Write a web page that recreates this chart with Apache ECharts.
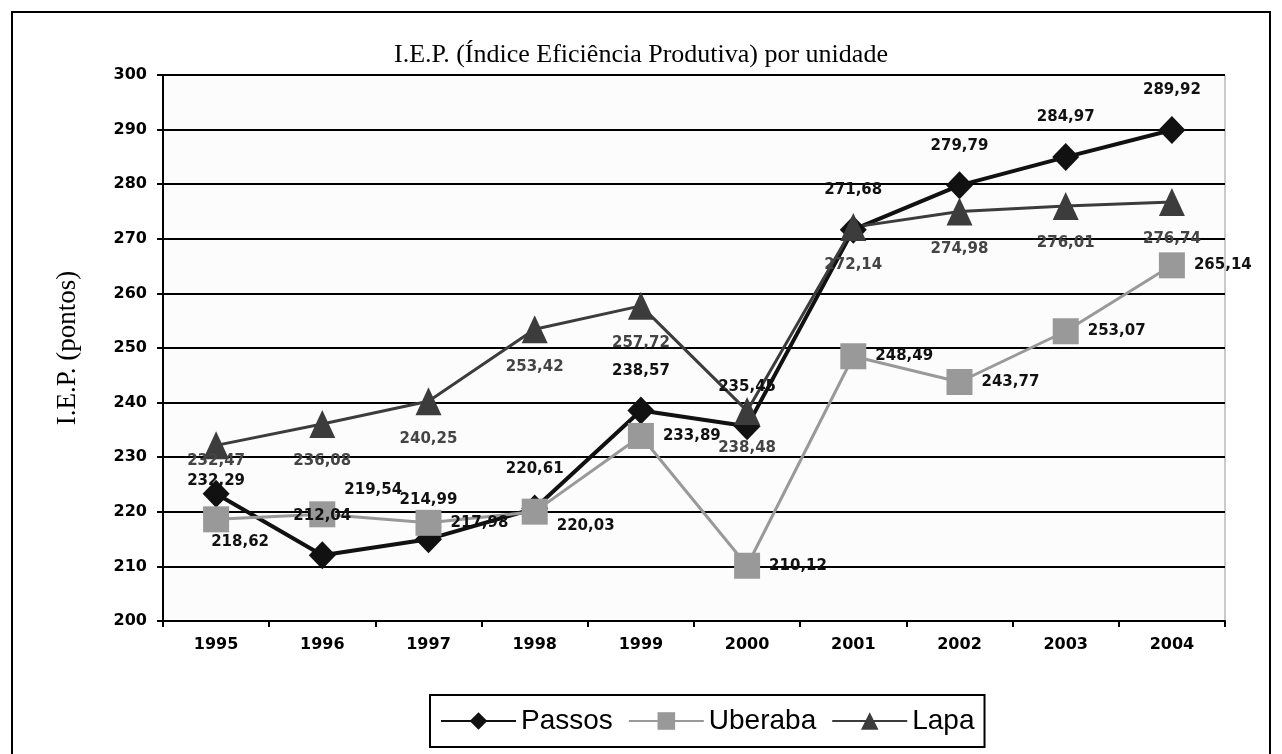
<!DOCTYPE html>
<html>
<head>
<meta charset="utf-8">
<script src="https://cdn.jsdelivr.net/npm/echarts@6/dist/echarts.min.js"></script>
<style>
  html, body { margin: 0; padding: 0; background: #fff; }
  #chart { width: 1282px; height: 754px; }
</style>
</head>
<body>
<div id="chart"></div>
<script>
// anos
var years = ['1995', '1996', '1997', '1998', '1999', '2000', '2001', '2002', '2003', '2004'];
// valores
var passos = [223.29, 212.04, 214.99, 220.61, 238.57, 235.65, 271.68, 279.79, 284.97, 289.92];
var uberaba = [218.62, 219.54, 217.98, 220.03, 233.89, 210.12, 248.49, 243.77, 253.07, 265.14];
var lapa = [232.17, 236.08, 240.25, 253.42, 257.72, 238.48, 272.14, 274.98, 276.01, 276.74];
// rotulos como aparecem na figura
var passosLabels = ['232,29', '212,04', '214,99', '220,61', '238,57', '235,45', '271,68', '279,79', '284,97', '289,92'];
var uberabaLabels = ['218,62', '219,54', '217,98', '220,03', '233,89', '210,12', '248,49', '243,77', '253,07', '265,14'];
var lapaLabels = ['232,47', '236,08', '240,25', '253,42', '257,72', '238,48', '272,14', '274,98', '276,01', '276,74'];

var myChart = echarts.init(document.getElementById('chart'));
var lblFont = 'DejaVu Sans';

// alguns rotulos ficam deslocados no original
var labelTweaks = {
  Passos: { 0: { offset: [0, 27] } },
  Uberaba: { 0: { position: 'bottom', distance: 2, offset: [24, 0] }, 1: { offset: [0, -24] }, 3: { offset: [0, 14] } },
  Lapa: { 0: { offset: [0, -22] } }
};

function mkSeries(name, data, labels, color, width, symbol, size, pos, dist, lblColor){
  var tw = labelTweaks[name] || {};
  var items = data.map(function(v, i){
    return tw[i] ? { value: v, label: tw[i] } : v;
  });
  return {
    name: name,
    type: 'line',
    data: items,
    symbol: symbol,
    symbolSize: size,
    lineStyle: { color: color, width: width },
    itemStyle: { color: color },
    label: {
      show: true,
      position: pos,
      distance: dist,
      color: lblColor,
      fontFamily: lblFont,
      fontWeight: 'bold',
      fontSize: 15,
      formatter: function(p){ return labels[p.dataIndex]; }
    },
    emphasis: { disabled: true },
    animation: false
  };
}

var option = {
  backgroundColor: '#fff',
  animation: false,
  title: {
    text: 'I.E.P. (Índice Eficiência Produtiva) por unidade',
    left: 'center',
    top: 37,
    textStyle: { fontFamily: 'Liberation Serif', fontWeight: 'normal', fontSize: 26, color: '#000' }
  },
  graphic: [{
    type: 'rect',
    shape: { x: 12, y: 12, width: 1258, height: 780 },
    style: { fill: 'none', stroke: '#000', lineWidth: 2 },
    silent: true
  }],
  legend: {
    left: 430,
    top: 695,
    itemWidth: 75,
    itemHeight: 22,
    itemGap: 15,
    padding: [12, 10],
    borderColor: '#000',
    borderWidth: 2,
    textStyle: { fontFamily: 'Liberation Sans', fontSize: 28, color: '#000' },
    data: ['Passos', 'Uberaba', 'Lapa']
  },
  grid: {
    left: 163, right: 57, top: 75, bottom: 133,
    show: true,
    backgroundColor: '#fcfcfc',
    borderColor: '#999',
    borderWidth: 1
  },
  xAxis: {
    type: 'category',
    data: years,
    axisLine: { lineStyle: { color: '#000', width: 2 } },
    axisTick: { show: true, length: 6, lineStyle: { color: '#000', width: 2 } },
    axisLabel: { color: '#000', fontFamily: lblFont, fontWeight: 'bold', fontSize: 16, margin: 16 }
  },
  yAxis: {
    type: 'value',
    min: 200,
    max: 300,
    interval: 10,
    name: 'I.E.P. (pontos)',
    nameLocation: 'middle',
    nameGap: 82,
    nameRotate: 90,
    nameTextStyle: { fontFamily: 'Liberation Serif', fontSize: 27, color: '#000' },
    axisLine: { show: true, lineStyle: { color: '#000', width: 2 } },
    axisTick: { show: true, length: 6, lineStyle: { color: '#000', width: 2 } },
    axisLabel: { color: '#000', fontFamily: lblFont, fontWeight: 'bold', fontSize: 16, margin: 16 },
    splitLine: { lineStyle: { color: '#000', width: 2 } }
  },
  series: [
    mkSeries('Passos', passos, passosLabels, '#111', 4, 'diamond', [27, 28], 'top', 18, '#111'),
    mkSeries('Uberaba', uberaba, uberabaLabels, '#999', 3, 'rect', 26, 'right', 9, '#111'),
    mkSeries('Lapa', lapa, lapaLabels, '#3c3c3c', 3, 'triangle', [26, 28], 'bottom', 16, '#444')
  ]
};
myChart.setOption(option);
</script>
</body>
</html>
